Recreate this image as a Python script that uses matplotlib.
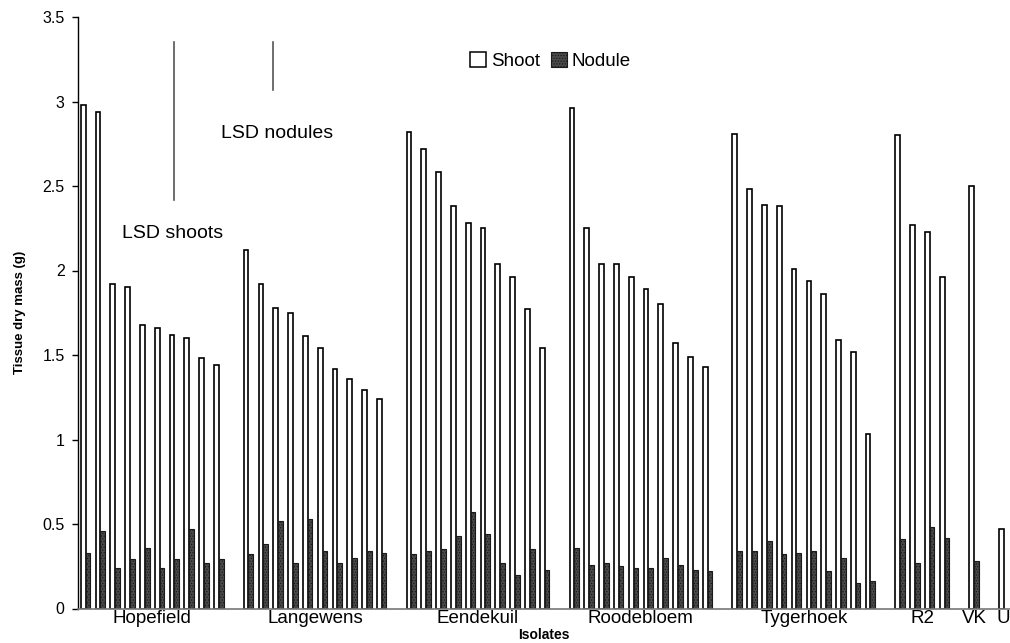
import matplotlib
matplotlib.use("Agg")
import matplotlib.pyplot as plt
import numpy as np
from matplotlib.ticker import FuncFormatter
from matplotlib.patches import Patch

plt.rcParams['font.family'] = ['Liberation Sans', 'DejaVu Sans']
plt.rcParams['hatch.color'] = '#111111'
plt.rcParams['hatch.linewidth'] = 0.6

# data
groups = ["Hopefield", "Langewens", "Eendekuil", "Roodebloem", "Tygerhoek", "R2", "VK", "U"]
shoot = [
    [2.98, 2.94, 1.92, 1.90, 1.68, 1.66, 1.62, 1.60, 1.48, 1.44],
    [2.12, 1.92, 1.78, 1.75, 1.61, 1.54, 1.42, 1.36, 1.29, 1.24],
    [2.82, 2.72, 2.58, 2.38, 2.28, 2.25, 2.04, 1.96, 1.77, 1.54],
    [2.96, 2.25, 2.04, 2.04, 1.96, 1.89, 1.80, 1.57, 1.49, 1.43],
    [2.81, 2.48, 2.39, 2.38, 2.01, 1.94, 1.86, 1.59, 1.52, 1.03],
    [2.80, 2.27, 2.23, 1.96],
    [2.50],
    [0.47],
]
nodule = [
    [0.33, 0.46, 0.24, 0.29, 0.36, 0.24, 0.29, 0.47, 0.27, 0.29],
    [0.32, 0.38, 0.52, 0.27, 0.53, 0.34, 0.27, 0.30, 0.34, 0.33],
    [0.32, 0.34, 0.35, 0.43, 0.57, 0.44, 0.27, 0.20, 0.35, 0.23],
    [0.36, 0.26, 0.27, 0.25, 0.24, 0.24, 0.30, 0.26, 0.23, 0.22],
    [0.34, 0.34, 0.40, 0.32, 0.33, 0.34, 0.22, 0.30, 0.15, 0.16],
    [0.41, 0.27, 0.48, 0.42],
    [0.28],
    [0.0],
]
lsd_shoots = 0.93
lsd_nodules = 0.28
lsd_top = 3.35

# slot positions: one empty slot between groups
xpos, centers = [], []
pos = 0
for vals in shoot:
    xs = np.arange(pos, pos + len(vals))
    xpos.append(xs)
    centers.append(xs.mean())
    pos += len(vals) + 1

fig = plt.figure(figsize=(10.1, 6.43), dpi=100)
ax = fig.add_axes([77.7 / 1010, 1 - 608.5 / 643, (1010 - 77.7) / 1010, (608.5 - 17) / 643])

w = 0.32
for xs, s, n in zip(xpos, shoot, nodule):
    ax.bar(xs - w / 2, s, width=w, color='white', edgecolor='black', linewidth=1.2)
    ax.bar(xs + w / 2, n, width=w, color='#4a4a4a', edgecolor='#1a1a1a', linewidth=0.8, hatch='......')

# LSD bars
ax.plot([5.95, 5.95], [lsd_top - lsd_shoots, lsd_top], color='#555555', lw=1.2)
ax.plot([12.68, 12.68], [lsd_top - lsd_nodules, lsd_top], color='#555555', lw=1.2)
ax.text(2.45, 2.22, "LSD shoots", fontsize=14, va='center', ha='left')
ax.text(9.15, 2.81, "LSD nodules", fontsize=14, va='center', ha='left')

# legend
handles = [Patch(facecolor='white', edgecolor='black', linewidth=1.1, label='Shoot'),
           Patch(facecolor='#4a4a4a', edgecolor='#1a1a1a', linewidth=0.8, hatch='......', label='Nodule')]
ax.legend(handles=handles, loc='center left', bbox_to_anchor=(0.421, 0.926), ncol=2,
          frameon=False, fontsize=13.5, handlelength=0.85, handleheight=0.85,
          handletextpad=0.25, columnspacing=0.6, borderpad=0, borderaxespad=0)

ax.set_xlim(-0.53, 62.42)
ax.set_ylim(0, 3.5)
ax.set_yticks(np.arange(0, 3.51, 0.5))
ax.yaxis.set_major_formatter(FuncFormatter(lambda v, p: "{:g}".format(v)))
ax.tick_params(axis='y', direction='out', length=4, width=1, pad=5.5, labelsize=11.5)
ax.set_xticks(centers)
ax.set_xticklabels(groups)
ax.tick_params(axis='x', length=0, pad=1, labelsize=13.5)

ax.spines['top'].set_visible(False)
ax.spines['right'].set_visible(False)
ax.spines['left'].set_linewidth(1.0)
ax.spines['bottom'].set_color('#777777')
ax.spines['bottom'].set_linewidth(1.2)

ax.set_ylabel("Tissue dry mass (g)", fontsize=9.5, fontweight='bold', labelpad=12)
ax.set_xlabel("Isolates", fontsize=10, fontweight='bold', labelpad=1)

plt.savefig("out.png", dpi=100)
